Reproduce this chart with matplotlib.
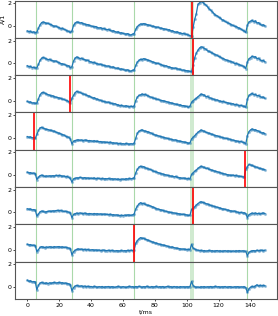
import numpy as np
import matplotlib
matplotlib.use("Agg")
import matplotlib.pyplot as plt

# sample times (1 ms steps)
t_ms = np.arange(0, 150, 1)

trace_1 = [
    -0.44, -0.5, -0.47, -0.58, -0.52, -0.6, -0.55, -0.2, 0.1, 0.3,
    0.35, 0.3, 0.22, 0.24, 0.15, 0.12, 0.02, -0.03, -0.01, -0.1,
    -0.15, -0.23, -0.2, -0.3, -0.35, -0.44, -0.48, -0.58, -0.45, 0.05,
    0.25, 0.35, 0.32, 0.26, 0.3, 0.2, 0.18, 0.1, 0.12, 0.04,
    0.0, -0.03, -0.08, -0.05, -0.14, -0.18, -0.15, -0.24, -0.22, -0.3,
    -0.33, -0.3, -0.4, -0.45, -0.42, -0.5, -0.55, -0.52, -0.62, -0.6,
    -0.66, -0.7, -0.72, -0.68, -0.77, -0.8, -0.72, -0.68, -0.3, -0.05,
    0.06, 0.18, 0.15, 0.21, 0.16, 0.12, 0.08, 0.05, -0.02, -0.03,
    -0.08, -0.12, -0.1, -0.18, -0.2, -0.23, -0.26, -0.3, -0.35, -0.33,
    -0.44, -0.42, -0.5, -0.55, -0.52, -0.6, -0.62, -0.68, -0.66, -0.72,
    -0.75, -0.8, -0.85, -0.91, -0.1, 0.6, 1.1, 1.9, 2.05, 2.18,
    2.1, 1.95, 1.85, 1.7, 1.5, 1.4, 1.25, 1.1, 0.95, 0.9,
    0.78, 0.7, 0.56, 0.5, 0.4, 0.32, 0.25, 0.2, 0.1, 0.05,
    -0.03, -0.05, -0.14, -0.2, -0.28, -0.38, -0.45, -0.58, 0.06, 0.35,
    0.42, 0.5, 0.38, 0.45, 0.26, 0.3, 0.15, 0.06, 0.1, 0.0,
]
trace_2 = [
    -0.22, -0.3, -0.28, -0.38, -0.35, -0.42, -0.4, -0.1, 0.25, 0.45,
    0.51, 0.45, 0.38, 0.32, 0.35, 0.25, 0.22, 0.18, 0.2, 0.1,
    0.05, -0.03, -0.05, -0.1, -0.15, -0.24, -0.22, -0.41, -0.3, 0.2,
    0.45, 0.56, 0.5, 0.41, 0.45, 0.35, 0.32, 0.25, 0.27, 0.15,
    0.12, 0.06, 0.08, -0.02, -0.05, -0.1, -0.08, -0.15, -0.18, -0.22,
    -0.26, -0.24, -0.32, -0.35, -0.33, -0.42, -0.45, -0.43, -0.53, -0.5,
    -0.55, -0.6, -0.62, -0.58, -0.68, -0.7, -0.62, -0.6, -0.2, 0.1,
    0.25, 0.35, 0.33, 0.41, 0.35, 0.32, 0.25, 0.22, 0.15, 0.1,
    0.05, -0.02, 0.0, -0.08, -0.12, -0.2, -0.24, -0.22, -0.3, -0.32,
    -0.38, -0.41, -0.45, -0.42, -0.5, -0.52, -0.55, -0.62, -0.6, -0.65,
    -0.66, -0.68, -0.72, -0.77, -0.15, 0.5, 0.9, 1.15, 1.35, 1.45,
    1.42, 1.3, 1.25, 1.1, 1.05, 0.98, 0.9, 0.82, 0.75, 0.71,
    0.6, 0.55, 0.45, 0.41, 0.33, 0.28, 0.22, 0.18, 0.12, 0.08,
    -0.03, 0.0, -0.08, -0.12, -0.2, -0.24, -0.3, -0.47, 0.1, 0.4,
    0.5, 0.62, 0.55, 0.58, 0.41, 0.45, 0.3, 0.21, 0.25, 0.12,
]
trace_3 = [
    -0.07, -0.15, -0.12, -0.22, -0.2, -0.25, -0.24, 0.15, 0.5, 0.68,
    0.72, 0.65, 0.58, 0.52, 0.48, 0.4, 0.42, 0.34, 0.3, 0.25,
    0.22, 0.19, 0.12, 0.1, 0.02, -0.01, -0.1, -0.22, 0.2, 0.45,
    0.7, 0.81, 0.75, 0.72, 0.65, 0.58, 0.55, 0.48, 0.42, 0.38,
    0.3, 0.22, 0.25, 0.15, 0.12, 0.05, 0.02, -0.05, -0.08, -0.12,
    -0.16, -0.14, -0.22, -0.25, -0.3, -0.28, -0.36, -0.38, -0.46, -0.42,
    -0.48, -0.5, -0.46, -0.52, -0.55, -0.5, -0.55, -0.48, 0.0, 0.3,
    0.45, 0.5, 0.58, 0.52, 0.55, 0.45, 0.4, 0.32, 0.28, 0.22,
    0.18, 0.12, 0.1, 0.05, 0.0, -0.01, -0.05, -0.1, -0.12, -0.18,
    -0.2, -0.25, -0.28, -0.32, -0.35, -0.4, -0.38, -0.46, -0.45, -0.5,
    -0.52, -0.6, -0.5, -0.16, -0.01, 0.1, 0.2, 0.34, 0.45, 0.58,
    0.52, 0.48, 0.34, 0.38, 0.25, 0.22, 0.15, 0.12, 0.04, 0.06,
    -0.02, -0.05, -0.1, -0.08, -0.16, -0.18, -0.22, -0.25, -0.3, -0.28,
    -0.37, -0.35, -0.4, -0.45, -0.42, -0.49, -0.52, -0.6, 0.1, 0.45,
    0.55, 0.63, 0.52, 0.55, 0.43, 0.45, 0.35, 0.28, 0.3, 0.19,
]
trace_4 = [
    0.11, 0.05, 0.08, 0.0, 0.02, -0.05, 0.3, 0.65, 0.88, 0.93,
    0.85, 0.8, 0.75, 0.73, 0.68, 0.65, 0.6, 0.58, 0.5, 0.45,
    0.4, 0.35, 0.28, 0.25, 0.15, 0.08, 0.05, -0.1, -0.54, -0.3,
    -0.24, -0.2, -0.18, -0.22, -0.19, -0.25, -0.2, -0.22, -0.26, -0.24,
    -0.27, -0.3, -0.26, -0.32, -0.3, -0.35, -0.33, -0.38, -0.36, -0.4,
    -0.39, -0.42, -0.38, -0.45, -0.44, -0.48, -0.46, -0.52, -0.5, -0.54,
    -0.52, -0.55, -0.5, -0.54, -0.56, -0.52, -0.55, -0.48, -0.05, 0.4,
    0.58, 0.65, 0.7, 0.62, 0.6, 0.55, 0.52, 0.45, 0.4, 0.3,
    0.26, 0.22, 0.18, 0.15, 0.1, 0.05, 0.02, -0.02, -0.05, -0.1,
    -0.12, -0.16, -0.2, -0.18, -0.25, -0.28, -0.3, -0.34, -0.36, -0.4,
    -0.42, -0.48, -0.45, -0.1, 0.05, 0.2, 0.35, 0.49, 0.6, 0.7,
    0.62, 0.58, 0.49, 0.45, 0.4, 0.35, 0.3, 0.25, 0.2, 0.18,
    0.12, 0.08, 0.05, 0.0, -0.04, -0.05, -0.1, -0.12, -0.18, -0.2,
    -0.24, -0.28, -0.3, -0.35, -0.32, -0.39, -0.42, -0.54, 0.2, 0.55,
    0.7, 0.79, 0.7, 0.72, 0.64, 0.6, 0.5, 0.43, 0.45, 0.35,
]
trace_5 = [
    0.26, 0.2, 0.22, 0.15, 0.18, 0.12, -0.39, -0.2, -0.05, 0.0,
    -0.05, -0.12, -0.08, -0.1, -0.06, -0.09, -0.05, -0.08, -0.03, -0.06,
    -0.03, -0.05, -0.1, -0.08, -0.15, -0.12, -0.2, -0.3, -0.62, -0.33,
    -0.28, -0.24, -0.26, -0.2, -0.24, -0.27, -0.22, -0.28, -0.25, -0.3,
    -0.27, -0.3, -0.26, -0.32, -0.28, -0.3, -0.34, -0.3, -0.33, -0.31,
    -0.33, -0.3, -0.35, -0.32, -0.36, -0.33, -0.38, -0.35, -0.39, -0.36,
    -0.35, -0.38, -0.32, -0.35, -0.3, -0.33, -0.3, -0.25, 0.2, 0.5,
    0.7, 0.79, 0.72, 0.75, 0.65, 0.6, 0.55, 0.5, 0.45, 0.35,
    0.32, 0.28, 0.22, 0.18, 0.12, 0.1, 0.05, 0.02, -0.02, -0.05,
    -0.09, -0.1, -0.15, -0.12, -0.2, -0.22, -0.24, -0.28, -0.26, -0.3,
    -0.33, -0.3, -0.35, 0.06, 0.2, 0.35, 0.45, 0.59, 0.7, 0.79,
    0.72, 0.68, 0.59, 0.62, 0.5, 0.48, 0.42, 0.38, 0.35, 0.3,
    0.25, 0.22, 0.16, 0.12, 0.1, 0.05, 0.02, 0.0, -0.03, 0.0,
    -0.05, -0.02, -0.09, -0.1, -0.12, -0.15, -0.18, 0.5, 0.75, 0.94,
    0.9, 0.85, 0.79, 0.72, 0.7, 0.62, 0.59, 0.55, 0.5, 0.47,
]
trace_6 = [
    0.32, 0.28, 0.3, 0.22, 0.25, 0.2, -0.32, -0.15, 0.05, 0.12,
    0.08, 0.03, 0.06, 0.1, 0.12, 0.08, 0.14, 0.12, 0.16, 0.18,
    0.15, 0.17, 0.12, 0.08, 0.1, 0.06, 0.02, -0.05, -0.47, -0.18,
    -0.12, -0.06, -0.1, -0.05, -0.08, -0.12, -0.06, -0.1, -0.14, -0.1,
    -0.12, -0.15, -0.1, -0.14, -0.12, -0.16, -0.13, -0.18, -0.15, -0.17,
    -0.18, -0.2, -0.16, -0.22, -0.2, -0.24, -0.22, -0.26, -0.29, -0.25,
    -0.28, -0.24, -0.27, -0.22, -0.24, -0.26, -0.22, -0.15, 0.3, 0.55,
    0.75, 0.86, 0.78, 0.8, 0.7, 0.65, 0.62, 0.58, 0.52, 0.45,
    0.4, 0.32, 0.3, 0.25, 0.22, 0.18, 0.12, 0.1, 0.05, 0.02,
    0.0, -0.03, -0.05, -0.08, -0.1, -0.12, -0.15, -0.18, -0.16, -0.2,
    -0.22, -0.27, -0.25, 0.27, 0.35, 0.5, 0.65, 0.78, 0.88, 0.94,
    0.88, 0.85, 0.77, 0.75, 0.68, 0.62, 0.58, 0.55, 0.5, 0.45,
    0.42, 0.38, 0.32, 0.3, 0.27, 0.22, 0.2, 0.15, 0.12, 0.1,
    0.12, 0.05, 0.02, -0.03, 0.0, -0.05, -0.03, -0.1, -0.47, -0.2,
    -0.12, -0.06, -0.1, -0.05, -0.12, -0.08, -0.14, -0.09, -0.06, -0.1,
]
trace_7 = [
    0.48, 0.42, 0.45, 0.38, 0.4, 0.36, -0.17, 0.0, 0.2, 0.27,
    0.22, 0.19, 0.24, 0.2, 0.26, 0.24, 0.2, 0.27, 0.23, 0.26,
    0.27, 0.22, 0.25, 0.2, 0.22, 0.18, 0.15, 0.1, -0.46, -0.17,
    -0.05, 0.02, 0.07, 0.02, 0.05, 0.0, 0.03, -0.02, 0.02, -0.04,
    -0.02, 0.0, -0.05, -0.02, -0.06, -0.03, -0.08, -0.05, -0.04, -0.08,
    -0.08, -0.05, -0.1, -0.06, -0.09, -0.12, -0.08, -0.1, -0.11, -0.07,
    -0.11, -0.08, -0.1, -0.06, -0.09, -0.05, -0.08, -0.05, 0.57, 0.8,
    0.95, 1.07, 1.0, 1.01, 0.92, 0.88, 0.82, 0.75, 0.7, 0.66,
    0.6, 0.58, 0.52, 0.48, 0.45, 0.42, 0.38, 0.35, 0.3, 0.26,
    0.22, 0.24, 0.18, 0.15, 0.12, 0.1, 0.07, 0.05, 0.06, 0.02,
    0.01, 0.03, 0.0, 0.48, 0.13, 0.05, -0.02, -0.05, -0.08, -0.06,
    -0.11, -0.08, -0.12, -0.1, -0.07, -0.11, -0.09, -0.13, -0.1, -0.08,
    -0.12, -0.1, -0.14, -0.11, -0.09, -0.13, -0.1, -0.12, -0.15, -0.11,
    -0.14, -0.1, -0.12, -0.08, -0.13, -0.1, -0.12, -0.15, -0.55, -0.23,
    -0.15, -0.1, -0.08, -0.12, -0.05, -0.1, -0.06, -0.05, -0.08, -0.05,
]
trace_8 = [
    0.6, 0.5, 0.55, 0.45, 0.48, 0.45, -0.25, 0.15, 0.35, 0.4,
    0.35, 0.31, 0.36, 0.3, 0.37, 0.33, 0.38, 0.4, 0.35, 0.38,
    0.4, 0.36, 0.38, 0.32, 0.35, 0.3, 0.28, 0.2, -0.34, -0.05,
    0.08, 0.13, 0.1, 0.06, 0.1, 0.04, 0.08, 0.02, 0.06, 0.03,
    0.04, 0.0, 0.05, 0.02, -0.02, 0.03, 0.0, 0.04, -0.03, 0.02,
    0.01, 0.04, -0.02, 0.03, 0.0, -0.03, 0.02, 0.05, 0.0, -0.02,
    0.03, 0.0, -0.04, 0.02, 0.05, 0.0, 0.03, -0.02, 0.04, 0.0,
    0.05, 0.02, -0.02, 0.03, 0.0, 0.06, 0.02, -0.03, 0.04, 0.0,
    0.02, 0.05, -0.02, 0.03, 0.0, 0.04, -0.03, 0.02, 0.05, 0.0,
    0.03, -0.02, 0.04, 0.0, 0.02, -0.03, 0.03, 0.0, 0.02, -0.01,
    0.02, 0.0, 0.03, 0.49, 0.12, 0.02, -0.02, 0.0, -0.04, 0.02,
    0.0, 0.03, -0.02, 0.02, 0.0, 0.04, -0.01, 0.02, 0.05, 0.0,
    0.03, -0.02, 0.02, 0.0, 0.04, -0.02, 0.01, 0.03, 0.0, -0.03,
    0.02, 0.0, 0.03, -0.02, 0.01, 0.0, 0.02, -0.05, -0.49, -0.15,
    -0.02, 0.05, 0.0, 0.1, 0.19, 0.08, 0.15, 0.1, 0.14, 0.1,
]
traces = [trace_1, trace_2, trace_3, trace_4, trace_5, trace_6, trace_7, trace_8]

# input events (green) and the marked event per row (red)
event_times = [5.6, 28.2, 67.1, 137.5]
event_band = (102.3, 104.7)
marked_times = [103.4, 103.9, 27.0, 4.4, 136.5, 104.1, 67.1, None]

fig, axes = plt.subplots(8, 1, sharex=True, sharey=True, figsize=(2.78, 3.16), dpi=100)
fig.subplots_adjust(left=0.0554, right=0.9957, top=0.998, bottom=0.054, hspace=0)

for ax, y, tm in zip(axes, traces, marked_times):
    for te in event_times:
        ax.axvline(te, color='tab:green', alpha=0.4, lw=0.8)
    ax.axvspan(*event_band, color='tab:green', alpha=0.22, lw=0)
    ax.plot(t_ms, y, '.', color='C0', ms=2.5, alpha=0.35)
    ax.plot(t_ms, y, '-', color='C0', lw=0.9)
    if tm is not None:
        ax.axvline(tm, color='red', lw=1.2)
    ax.set_yticks([0, 2])
    ax.tick_params(labelsize=4.5, length=1.5, width=0.5, pad=1.5)
    for sp in ax.spines.values():
        sp.set_linewidth(0.8)
        sp.set_color('#555555')

axes[0].set_xlim(-7.45, 156.45)
axes[0].set_ylim(-1.06, 2.24)
axes[0].set_ylabel('A/1', fontsize=4.5, labelpad=1.5)
axes[-1].set_xticks(range(0, 141, 20))
axes[-1].set_xlabel('t/ms', fontsize=4.5, labelpad=1)

fig.savefig('out.png', dpi=100)
